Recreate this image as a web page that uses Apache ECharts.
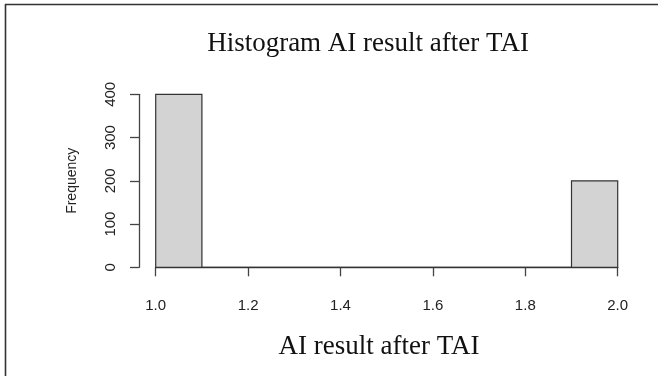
<!DOCTYPE html>
<html>
<head>
<meta charset="utf-8">
<script src="https://cdn.jsdelivr.net/npm/echarts@6/dist/echarts.min.js"></script>
<style>
  html, body { margin: 0; padding: 0; background: #fff; }
  #chart { width: 658px; height: 376px; }
</style>
</head>
<body>
<div id="chart"></div>
<script>
// ---- data ----
const titleText = 'Histogram AI result after TAI';
const xTitle = 'AI result after TAI';
const yTitle = 'Frequency';
const breaks = [1.0, 1.1, 1.2, 1.3, 1.4, 1.5, 1.6, 1.7, 1.8, 1.9, 2.0];
const counts = [400, 0, 0, 0, 0, 0, 0, 0, 0, 200];
const xTicks = [1.0, 1.2, 1.4, 1.6, 1.8, 2.0];
const yTicks = [0, 100, 200, 300, 400];

const binData = counts.map((c, i) => [breaks[i], breaks[i + 1], c]);

const chart = echarts.init(document.getElementById('chart'), null, { renderer: 'canvas' });

const axisColor = '#444';
const labelColor = '#222';
const sans = '"Liberation Sans", Arial, sans-serif';
const serif = '"Liberation Serif", "Times New Roman", serif';

chart.setOption({
  animation: false,
  backgroundColor: '#fff',
  grid: { left: 155.7, top: 94.3, width: 462, height: 173, containLabel: false },
  xAxis: {
    type: 'value',
    min: xTicks[0], max: xTicks[xTicks.length - 1], interval: 0.2,
    offset: 7,
    axisLine: { show: true, lineStyle: { color: axisColor, width: 1.3 } },
    axisTick: { show: true, length: 9, lineStyle: { color: axisColor, width: 1.3 } },
    axisLabel: { color: labelColor, fontFamily: sans, fontSize: 15, margin: 24,
      formatter: v => v.toFixed(1) },
    splitLine: { show: false }
  },
  yAxis: {
    type: 'value',
    min: yTicks[0], max: yTicks[yTicks.length - 1], interval: 100,
    offset: 16.7,
    name: yTitle, nameLocation: 'middle', nameRotate: 90, nameGap: 60,
    nameTextStyle: { color: labelColor, fontFamily: sans, fontSize: 14 },
    axisLine: { show: true, lineStyle: { color: axisColor, width: 1.3 } },
    axisTick: { show: true, length: 9, lineStyle: { color: axisColor, width: 1.3 } },
    axisLabel: { color: labelColor, fontFamily: sans, fontSize: 15, margin: 21, rotate: 90 },
    splitLine: { show: false }
  },
  series: [{
    type: 'custom',
    data: binData,
    encode: { x: [0, 1], y: 2 },
    renderItem: function (params, api) {
      const p0 = api.coord([api.value(0), api.value(2)]);
      const p1 = api.coord([api.value(1), 0]);
      return {
        type: 'rect',
        shape: { x: p0[0], y: p0[1], width: p1[0] - p0[0], height: p1[1] - p0[1] },
        style: { fill: '#d3d3d3', stroke: '#333', lineWidth: 1.2 }
      };
    }
  }],
  graphic: [
    { type: 'line', shape: { x1: 5, y1: 4.5, x2: 658, y2: 4.5 }, style: { stroke: '#333', lineWidth: 1.6 } },
    { type: 'line', shape: { x1: 5.5, y1: 4, x2: 5.5, y2: 376 }, style: { stroke: '#333', lineWidth: 1.6 } },
    { type: 'text', x: 368, y: 44, style: { text: titleText, fill: '#111', font: '27px ' + serif, textAlign: 'center', textVerticalAlign: 'middle' } },
    { type: 'text', x: 379, y: 347, style: { text: xTitle, fill: '#111', font: '27px ' + serif, textAlign: 'center', textVerticalAlign: 'middle' } }
  ]
});
</script>
</body>
</html>
